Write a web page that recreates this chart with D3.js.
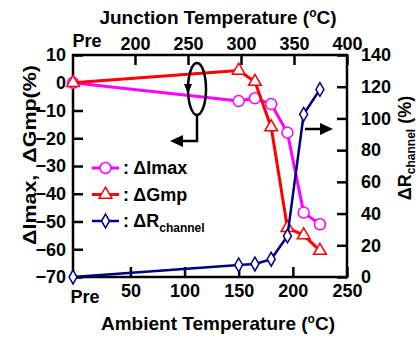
<!DOCTYPE html>
<html lang="en">
<head>
<meta charset="utf-8">
<title>Imax, Gmp and Rchannel vs temperature</title>
<script src="https://d3js.org/d3.v7.min.js"></script>
<style>
  body { margin: 0; background: #fff; }
  text { font-family: "Liberation Sans", Arial, sans-serif; font-weight: bold; fill: #000; }
</style>
</head>
<body>
<script>
// ambient temperature of each measurement ("Pre" = before stress)
var ambient = ["Pre", 150, 165, 180, 195, 210, 225];
var dImax = [0, -6.6, -5.6, -7.7, -18, -46.8, -51];
var dGmp = [0, 4.4, 0.4, -16, -52.3, -54.9, -60.5];
var dRch = [0, 7.6, 8.2, 11.2, 25.9, 102.6, 118.3];

var bottomTicks = [50, 100, 150, 200, 250];
var topTicks = [200, 250, 300, 350, 400];
var leftTicks = [10, 0, -10, -20, -30, -40, -50, -60, -70];
var rightTicks = [0, 20, 40, 60, 80, 100, 120, 140];

var W = 418, H = 338;
var L = 73, R = 347, T = 55, B = 277;
var preX = -3;

var x = d3.scaleLinear().domain([preX, 250]).range([L, R]);
var xTop = d3.scaleLinear().domain([200, 400]).range([135, R]);
var yL = d3.scaleLinear().domain([-70, 10]).range([B, T]);
var yR = d3.scaleLinear().domain([0, 140]).range([B, T]);

function xv(a) { return a === "Pre" ? x(preX) : x(a); }

var svg = d3.select("body").append("svg")
    .attr("width", W).attr("height", H);

// axes (ticks pointing inside)
function styleAxis(g) {
    g.select(".domain").remove();
    g.selectAll(".tick line").attr("stroke", "#000").attr("stroke-width", 2.5);
    g.selectAll(".tick text").attr("font-size", 18).attr("font-family", null);
}

svg.append("g").attr("transform", "translate(0," + B + ")")
    .call(d3.axisBottom(x).tickValues(bottomTicks).tickSize(-10).tickSizeOuter(0).tickPadding(7))
    .call(styleAxis);
svg.append("g").attr("transform", "translate(0," + T + ")")
    .call(d3.axisTop(xTop).tickValues(topTicks).tickSize(-10).tickSizeOuter(0).tickPadding(5))
    .call(styleAxis);
svg.append("g").attr("transform", "translate(" + L + ",0)")
    .call(d3.axisLeft(yL).tickValues(leftTicks).tickSize(-10).tickSizeOuter(0).tickPadding(7))
    .call(styleAxis);
svg.append("g").attr("transform", "translate(" + R + ",0)")
    .call(d3.axisRight(yR).tickValues(rightTicks).tickSize(-10).tickSizeOuter(0).tickPadding(14))
    .call(styleAxis);

svg.append("rect").attr("x", L).attr("y", T).attr("width", R - L).attr("height", B - T)
    .attr("fill", "none").attr("stroke", "#000").attr("stroke-width", 2.5);

svg.append("text").attr("x", L + 12).attr("y", B + 26).attr("text-anchor", "middle")
    .attr("font-size", 18).text("Pre");
svg.append("text").attr("x", L + 14).attr("y", T - 8).attr("text-anchor", "middle")
    .attr("font-size", 18).text("Pre");

// titles
function degTitle(tx, ty, label) {
    var t = svg.append("text").attr("x", tx).attr("y", ty).attr("text-anchor", "middle")
        .attr("font-size", 19);
    t.append("tspan").text(label + " (");
    t.append("tspan").attr("font-size", 12).attr("dy", -7).text("o");
    t.append("tspan").attr("dy", 7).text("C)");
}
degTitle(218, 24, "Junction Temperature");
degTitle(218, 330, "Ambient Temperature");

svg.append("text").attr("transform", "translate(36,155) rotate(-90)")
    .attr("text-anchor", "middle").attr("font-size", 19)
    .attr("textLength", 180).attr("lengthAdjust", "spacingAndGlyphs")
    .text("\u0394Imax,\u00a0\u00a0\u0394Gmp(%)");

var rt = svg.append("text").attr("transform", "translate(411,148) rotate(-90)")
    .attr("text-anchor", "middle").attr("font-size", 18);
rt.append("tspan").text("\u0394R");
rt.append("tspan").attr("font-size", 12).attr("dy", 4).text("channel");
rt.append("tspan").attr("dy", -4).text(" (%)");

// series
var series = [
    { vals: dImax, y: yL, color: "#ff00ff", sym: "circle", w: 3 },
    { vals: dGmp, y: yL, color: "#ff0000", sym: d3.symbolTriangle, w: 3 },
    { vals: dRch, y: yR, color: "#000080", sym: d3.symbolDiamond, w: 2.5 }
];

function drawMarker(g, s, px, py) {
    if (s.sym === "circle") {
        g.append("circle").attr("cx", px).attr("cy", py).attr("r", 5.5)
            .attr("fill", "#fff").attr("stroke", s.color).attr("stroke-width", 1.5);
    } else {
        g.append("path").attr("d", d3.symbol().type(s.sym).size(s.sym === d3.symbolTriangle ? 70 : 55)())
            .attr("transform", "translate(" + px + "," + py + ")")
            .attr("fill", "#fff").attr("stroke", s.color).attr("stroke-width", 1.5);
    }
}

series.forEach(function(s) {
    var line = d3.line()
        .x(function(d, i) { return xv(ambient[i]); })
        .y(function(d) { return s.y(d); });
    var g = svg.append("g");
    g.append("path").attr("d", line(s.vals)).attr("fill", "none")
        .attr("stroke", s.color).attr("stroke-width", s.w).attr("stroke-linejoin", "round");
    s.vals.forEach(function(v, i) { drawMarker(g, s, xv(ambient[i]), s.y(v)); });
});

// legend
var legend = [
    { s: series[0], name: "\u0394Imax" },
    { s: series[1], name: "\u0394Gmp" },
    { s: series[2], name: "\u0394R", sub: "channel" }
];
legend.forEach(function(d, i) {
    var ly = 168 + i * 26.5;
    var g = svg.append("g");
    g.append("line").attr("x1", 92).attr("x2", 119).attr("y1", ly).attr("y2", ly)
        .attr("stroke", d.s.color).attr("stroke-width", d.s.w);
    drawMarker(g, d.s, 105.5, ly);
    var t = g.append("text").attr("x", 123).attr("y", ly + 6).attr("font-size", 18);
    t.append("tspan").text(": " + d.name);
    if (d.sub) t.append("tspan").attr("font-size", 12).attr("dy", 5).text(d.sub);
});

// annotations: ellipse + arrow to left axis, arrow to right axis
svg.append("ellipse").attr("cx", 197).attr("cy", 89).attr("rx", 9).attr("ry", 26)
    .attr("fill", "none").attr("stroke", "#000").attr("stroke-width", 2.5);
svg.append("path").attr("d", "M184,84 L192,84 L188,94 Z").attr("fill", "#000");
svg.append("path").attr("d", "M197,115 L197,141 L180,141")
    .attr("fill", "none").attr("stroke", "#000").attr("stroke-width", 2.5);
svg.append("path").attr("d", "M170,141 L183,135 L183,147 Z").attr("fill", "#000");
svg.append("line").attr("x1", 305).attr("x2", 322).attr("y1", 129).attr("y2", 129)
    .attr("stroke", "#000").attr("stroke-width", 2.5);
svg.append("path").attr("d", "M333,129 L320,123 L320,135 Z").attr("fill", "#000");
</script>
</body>
</html>
